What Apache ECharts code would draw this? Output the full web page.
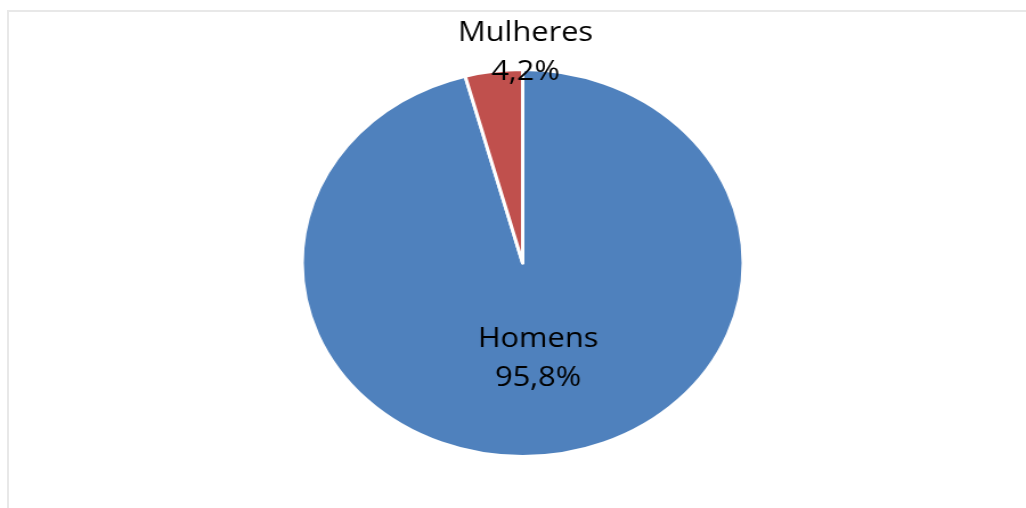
<!DOCTYPE html>
<html>
<head>
<meta charset="utf-8">
<script src="https://cdn.jsdelivr.net/npm/echarts@6/dist/echarts.min.js"></script>
<style>
  html, body { margin: 0; padding: 0; background: #fff; overflow: hidden; }
  #frame {
    position: absolute; left: 7px; top: 10px; width: 1030px; height: 510px;
    border-top: 2px solid #e8e8e8; border-left: 2px solid #e8e8e8;
  }
  /* o gráfico original está esticado na horizontal */
  #pie {
    position: absolute; left: 0; top: 0; width: 900px; height: 508px;
    transform: scaleX(1.14); transform-origin: 0 0;
  }
</style>
</head>
<body>
<div id="frame"></div>
<div id="pie"></div>
<script>
var categorias = ['Homens', 'Mulheres'];
var valores = [95.8, 4.2];
var cores = ['#4f81bd', '#c0504d'];

// posição dos rótulos (coordenadas do canvas antes do esticamento)
var posRotulos = [[472, 359], [461, 53]];

var myChart = echarts.init(document.getElementById('pie'));
myChart.setOption({
    animation: false,
    series: [{
        type: 'pie',
        center: [458.5, 263],
        radius: 193.5,
        startAngle: 90,
        clockwise: true,
        itemStyle: { borderColor: '#fff', borderWidth: 3 },
        label: {
            show: true,
            position: 'inside',
            fontFamily: 'Open Sans',
            fontSize: 27,
            lineHeight: 39,
            color: '#000',
            formatter: function (p) {
                return p.name + '\n' + p.value.toFixed(1).replace('.', ',') + '%';
            }
        },
        labelLine: { show: false },
        labelLayout: function (p) {
            var pos = posRotulos[p.dataIndex];
            return { x: pos[0], y: pos[1], align: 'center', verticalAlign: 'middle' };
        },
        emphasis: { disabled: true },
        data: categorias.map(function (c, i) {
            return {
                name: c,
                value: valores[i],
                itemStyle: { color: cores[i] }
            };
        })
    }]
});
</script>
</body>
</html>
